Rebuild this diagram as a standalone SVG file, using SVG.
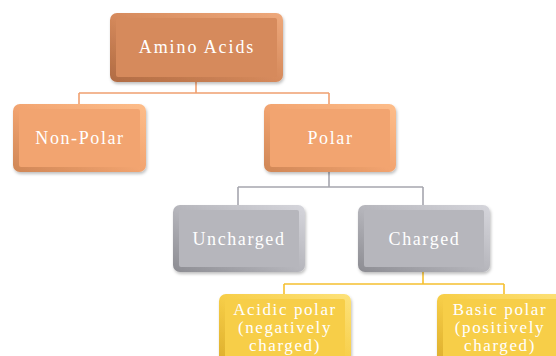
<svg xmlns="http://www.w3.org/2000/svg" width="556" height="356" viewBox="0 0 556 356">
<defs>
<linearGradient id="gA" x1="0" y1="1" x2="1" y2="0"><stop offset="0" stop-color="#B06B43"/><stop offset="0.5" stop-color="#D68A5C"/><stop offset="1" stop-color="#EEA97C"/></linearGradient>
<linearGradient id="gO" x1="0" y1="1" x2="1" y2="0"><stop offset="0" stop-color="#CF8656"/><stop offset="0.5" stop-color="#F2A470"/><stop offset="1" stop-color="#FDBD8A"/></linearGradient>
<linearGradient id="gG" x1="0" y1="1" x2="1" y2="0"><stop offset="0" stop-color="#8C8C92"/><stop offset="0.5" stop-color="#B6B6BC"/><stop offset="1" stop-color="#D6D6DC"/></linearGradient>
<linearGradient id="gY" x1="0" y1="1" x2="1" y2="0"><stop offset="0" stop-color="#DDAE2C"/><stop offset="0.5" stop-color="#F7CE48"/><stop offset="1" stop-color="#FDE27A"/></linearGradient>
<filter id="sh" x="-10%" y="-10%" width="130%" height="140%"><feDropShadow dx="1" dy="2" stdDeviation="1.5" flood-color="#000" flood-opacity="0.25"/></filter>
</defs>
<style>
text{font-family:"Liberation Serif","Times New Roman",serif;font-size:18px;fill:#FFFFFF;text-anchor:middle;letter-spacing:1.6px}
text.y{font-size:17px;letter-spacing:1.6px}
.outer{filter:url(#sh)}
.ca{fill:#D68A5C}.co{fill:#F2A470}.cg{fill:#B6B6BC}.cy{fill:#F7CE48}
.conn{fill:none;stroke-width:1.6}
</style>
<g id="connectors">
<path class="conn" stroke="#F0A070" d="M196 82 V93 M79 93 H329 M79 93 V104 M329 93 V104"/>
<path class="conn" stroke="#A6A6AE" d="M329 172 V187 M238 187 H423 M238 187 V205 M423 187 V205"/>
<path class="conn" stroke="#F5C030" d="M423 272 V284 M284 284 H504 M284 284 V294 M504 284 V294"/>
</g>
<g id="amino-acids">
<rect class="outer" x="110" y="13" width="173" height="69" rx="7" fill="url(#gA)"/>
<rect class="ca" x="116" y="18" width="161" height="59" rx="2"/>
<text x="197" y="53" style="letter-spacing:1.9px">Amino Acids</text>
</g>
<g id="non-polar">
<rect class="outer" x="13" y="104" width="133" height="68" rx="7" fill="url(#gO)"/>
<rect class="co" x="19" y="109" width="121" height="58" rx="2"/>
<text x="80" y="144">Non-Polar</text>
</g>
<g id="polar">
<rect class="outer" x="264" y="104" width="132" height="68" rx="7" fill="url(#gO)"/>
<rect class="co" x="270" y="109" width="120" height="58" rx="2"/>
<text x="330.5" y="144">Polar</text>
</g>
<g id="uncharged">
<rect class="outer" x="173" y="205" width="132" height="67" rx="7" fill="url(#gG)"/>
<rect class="cg" x="179" y="210" width="120" height="57" rx="2"/>
<text x="239" y="245">Uncharged</text>
</g>
<g id="charged">
<rect class="outer" x="358" y="205" width="132" height="67" rx="7" fill="url(#gG)"/>
<rect class="cg" x="364" y="210" width="120" height="57" rx="2"/>
<text x="424.5" y="245">Charged</text>
</g>
<g id="acidic-polar">
<rect class="outer" x="219" y="294" width="132" height="70" rx="7" fill="url(#gY)"/>
<rect class="cy" x="225" y="299" width="120" height="65" rx="2"/>
<text class="y" x="285" y="315">Acidic polar</text>
<text class="y" x="285" y="333">(negatively</text>
<text class="y" x="285" y="351">charged)</text>
</g>
<g id="basic-polar">
<rect class="outer" x="437" y="294" width="132" height="70" rx="7" fill="url(#gY)"/>
<rect class="cy" x="443" y="299" width="120" height="65" rx="2"/>
<text class="y" x="500" y="315">Basic polar</text>
<text class="y" x="500" y="333">(positively</text>
<text class="y" x="500" y="351">charged)</text>
</g>
</svg>
